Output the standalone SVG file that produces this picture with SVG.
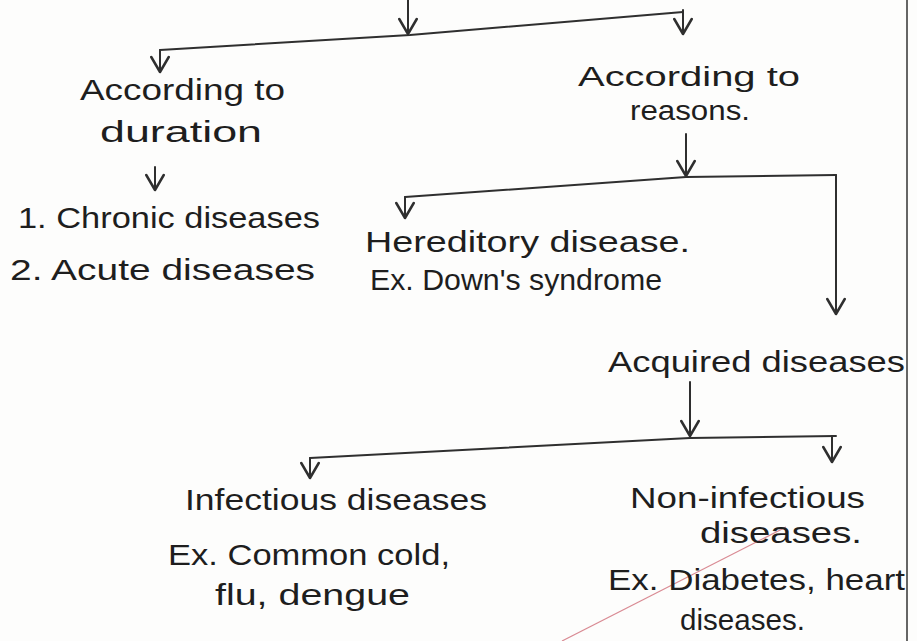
<svg xmlns="http://www.w3.org/2000/svg" width="917" height="641" viewBox="0 0 917 641">
<defs>
<marker id="ah" markerUnits="userSpaceOnUse" markerWidth="20" markerHeight="20" refX="14" refY="8" orient="auto" viewBox="0 0 16 16">
<path d="M2,1 L14,8 L2,15" fill="none" stroke="#2f2f2f" stroke-width="2" stroke-linecap="round" stroke-linejoin="round"/>
</marker>
<style>
.t{font-family:"Liberation Sans","DejaVu Sans",sans-serif;font-size:30px;fill:#1e1e1e}
.s{font-size:27px}
.c{fill:none;stroke:#2f2f2f;stroke-width:2;stroke-linecap:round;stroke-linejoin:round}
.a{marker-end:url(#ah)}
</style>
</defs>
<rect width="917" height="641" fill="#fdfdfc"/>
<line x1="907" y1="0" x2="907" y2="641" stroke="#333" stroke-width="1.5"/>
<line x1="562" y1="641" x2="786" y2="527" stroke="#d98a93" stroke-width="1.2"/>
<g id="connectors">
<line class="c a" x1="408" y1="0" x2="408" y2="34"/>
<line class="c a" x1="683" y1="10" x2="683" y2="34"/>
<polyline class="c" points="160,50 410,35 683,12"/>
<line class="c a" x1="160" y1="50" x2="160" y2="72"/>
<line class="c a" x1="155" y1="167" x2="155" y2="190"/>
<line class="c a" x1="686" y1="134" x2="686" y2="176"/>
<polyline class="c" points="405,197 686,177 836,175"/>
<line class="c a" x1="405" y1="197" x2="405" y2="218"/>
<line class="c a" x1="836" y1="175" x2="836" y2="314"/>
<line class="c a" x1="690" y1="382" x2="690" y2="436" stroke-width="4"/>
<polyline class="c" points="310,458 690,438 836,436"/>
<line class="c a" x1="310" y1="458" x2="310" y2="478"/>
<line class="c a" x1="832" y1="436" x2="832" y2="462" stroke-width="3"/>
</g>
<g id="node-duration">
<text class="t" x="80" y="100" textLength="205" lengthAdjust="spacingAndGlyphs">According to</text>
<text class="t" x="100" y="142" textLength="162" lengthAdjust="spacingAndGlyphs">duration</text>
</g>
<g id="node-duration-list">
<text class="t" x="18" y="228" textLength="302" lengthAdjust="spacingAndGlyphs">1. Chronic diseases</text>
<text class="t" x="10" y="280" textLength="305" lengthAdjust="spacingAndGlyphs">2. Acute diseases</text>
</g>
<g id="node-reasons">
<text class="t s" x="578" y="86" textLength="222" lengthAdjust="spacingAndGlyphs">According to</text>
<text class="t s" x="630" y="120" textLength="120" lengthAdjust="spacingAndGlyphs">reasons.</text>
</g>
<g id="node-hereditary">
<text class="t" x="365" y="252" textLength="325" lengthAdjust="spacingAndGlyphs">Hereditory disease.</text>
<text class="t" x="370" y="290" textLength="292" lengthAdjust="spacingAndGlyphs">Ex. Down's syndrome</text>
</g>
<g id="node-acquired">
<text class="t" x="608" y="372" textLength="297" lengthAdjust="spacingAndGlyphs">Acquired diseases</text>
</g>
<g id="node-infectious">
<text class="t" x="185" y="510" textLength="302" lengthAdjust="spacingAndGlyphs">Infectious diseases</text>
<text class="t" x="168" y="565" textLength="282" lengthAdjust="spacingAndGlyphs">Ex. Common cold,</text>
<text class="t" x="215" y="605" textLength="195" lengthAdjust="spacingAndGlyphs">flu, dengue</text>
</g>
<g id="node-noninfectious">
<text class="t" x="630" y="508" textLength="235" lengthAdjust="spacingAndGlyphs">Non-infectious</text>
<text class="t" x="700" y="543" textLength="162" lengthAdjust="spacingAndGlyphs">diseases.</text>
<text class="t" x="608" y="590" textLength="297" lengthAdjust="spacingAndGlyphs">Ex. Diabetes, heart</text>
<text class="t" x="680" y="630" textLength="125" lengthAdjust="spacingAndGlyphs">diseases.</text>
</g>
</svg>
